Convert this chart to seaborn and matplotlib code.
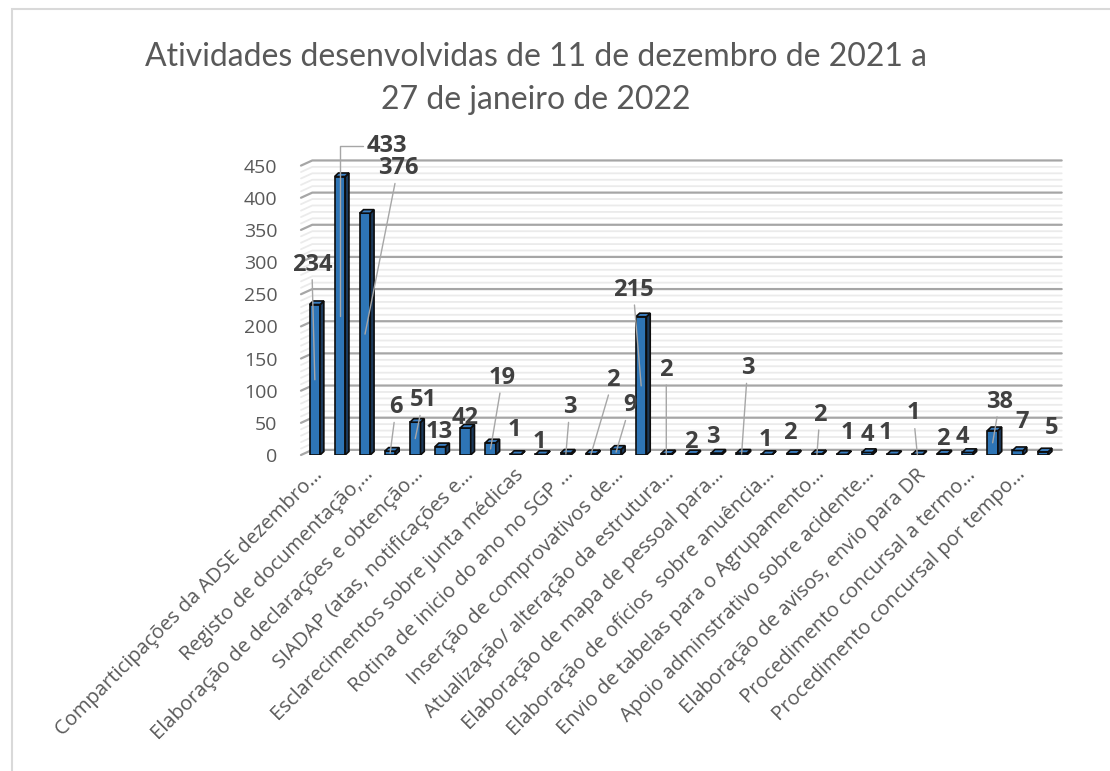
import numpy as np
import pandas as pd
import matplotlib.pyplot as plt
import seaborn as sns
from matplotlib.patches import Polygon, Rectangle
from matplotlib.transforms import ScaledTranslation

sns.set_style("white")
plt.rcParams['font.family'] = ['Open Sans', 'DejaVu Sans']

titulo = "Atividades desenvolvidas de 11 de dezembro de 2021 a\n27 de janeiro de 2022"

# 30 atividades; o Excel só mostra o nome de uma em cada duas
valores = [234, 433, 376, 6, 51, 13, 42, 19, 1, 1,
           3, 2, 9, 215, 2, 2, 3, 3, 1, 2,
           2, 1, 4, 1, 1, 2, 4, 38, 7, 5]
posicoes = list(range(len(valores)))

rotulos_visiveis = [
    "Comparticipações da ADSE dezembro…",
    "Registo de documentação,…",
    "Elaboração de declarações e obtenção…",
    "SIADAP (atas, notificações e…",
    "Esclarecimentos sobre junta médicas",
    "Rotina de inicio do ano no SGP …",
    "Inserção de comprovativos de…",
    "Atualização/ alteração da estrutura…",
    "Elaboração de mapa de pessoal para…",
    "Elaboração de ofícios  sobre anuência…",
    "Envio de tabelas para o Agrupamento…",
    "Apoio adminstrativo sobre acidente…",
    "Elaboração de avisos, envio para DR",
    "Procedimento concursal a termo…",
    "Procedimento concursal por tempo…",
]

# onde o Excel deixou cada rótulo de dados (pixels a partir do topo da barra)
desloc_rotulos = [(-3, 40), (47, 31), (33, 45), (6, 44), (8, 22), (-1, 15),
                  (0, 10), (12, 65), (-1, 24), (-1, 12), (4, 46), (22, 74),
                  (14, 44), (-8, 27), (0, 84), (-1, 12), (-4, 16), (6, 85),
                  (-1, 14), (-2, 21), (3, 39), (5, 21), (0, 17), (-7, 21),
                  (-4, 41), (0, 15), (-5, 15), (7, 29), (4, 28), (9, 24)]
com_linha_guia = [0, 1, 2, 3, 4, 7, 10, 11, 12, 13, 14, 17, 20, 24, 27]

azul = "#2E75B6"
cinza_txt = "#595959"

fig = plt.figure(figsize=(11.1, 7.71), dpi=100)
ax = fig.add_axes([301 / 1110, 316 / 771, 760.7 / 1110, 289.4 / 771])

# moldura da área do gráfico (sai pela direita e por baixo, como no original)
fig.add_artist(Rectangle((12 / 1110, -0.1), 1.2, 1.1 - 9 / 771, transform=fig.transFigure,
                         fill=False, edgecolor="#d9d9d9", lw=1.5, clip_on=False))

x_esq, x_fundo, x_dir = -0.55, -0.1, 29.75
prof_parede = 8

# linhas de grelha na parede do fundo, com a dobra da parede lateral
for v in range(0, 451, 10):
    principal = v % 50 == 0
    ax.plot([x_esq, x_fundo, x_dir], [v, v + prof_parede, v + prof_parede],
            color="#a6a6a6" if principal else "#ebebeb",
            lw=1.6 if principal else 1.3, zorder=0, clip_on=False)

df = pd.DataFrame({"pos": posicoes, "valor": valores})
sns.barplot(data=df, x="pos", y="valor", color=azul, width=0.42, saturation=1,
            edgecolor="#0d0d0d", linewidth=1.2, zorder=3, ax=ax)

# faces lateral e superior para o efeito 3D
ddx, ddy = 0.15, 5.5
for p in list(ax.patches):
    x0, w, h = p.get_x(), p.get_width(), p.get_height()
    x1 = x0 + w
    lado = Polygon([(x1, 0), (x1 + ddx, ddy), (x1 + ddx, h + ddy), (x1, h)], closed=True,
                   facecolor="#1b3a5c", edgecolor="#0d0d0d", lw=1.2, zorder=3)
    topo = Polygon([(x0, h), (x1, h), (x1 + ddx, h + ddy), (x0 + ddx, h + ddy)], closed=True,
                   facecolor="#3b7fc2", edgecolor="#0d0d0d", lw=1.2, zorder=3)
    ax.add_patch(lado)
    ax.add_patch(topo)

ax.set_xlim(x_esq, x_dir)
ax.set_ylim(0, 450)
for s in ax.spines.values():
    s.set_visible(False)
ax.set_xlabel("")
ax.set_ylabel("")

ax.set_yticks(range(0, 451, 50))
ax.tick_params(axis="y", length=0, pad=17, labelsize=14, labelcolor=cinza_txt)

ax.set_xticks(range(0, len(valores), 2))
ax.set_xticklabels(rotulos_visiveis, rotation=45, ha="right", va="center",
                   rotation_mode="anchor", fontsize=14.5, color=cinza_txt)
ax.tick_params(axis="x", length=0, pad=12)
for lab in ax.get_xticklabels():
    lab.set_transform(lab.get_transform() + ScaledTranslation(5 / 100, 0, fig.dpi_scale_trans))

# rótulos de dados
for i, v in enumerate(valores):
    dx, dy = desloc_rotulos[i]
    trans = ax.transData + ScaledTranslation(dx / 100, dy / 100, fig.dpi_scale_trans)
    setas = None
    if i in com_linha_guia:
        setas = dict(arrowstyle="-", color="#a6a6a6", lw=1, shrinkA=0, shrinkB=0)
        if i == 1:
            setas["connectionstyle"] = "angle,angleA=180,angleB=90,rad=0"
    ax.annotate(str(v), xy=(i, v / 2), xytext=(i, v), textcoords=trans,
                ha="center", va="center", fontsize=17, fontweight="bold",
                color="#404040", arrowprops=setas, zorder=5, annotation_clip=False)

fig.text(0.483, 1 - 78.5 / 771, titulo, ha="center", va="center", fontsize=23,
         family=["Lato", "DejaVu Sans"], color=cinza_txt, linespacing=1.55)

fig.savefig("out.png", dpi=100)
